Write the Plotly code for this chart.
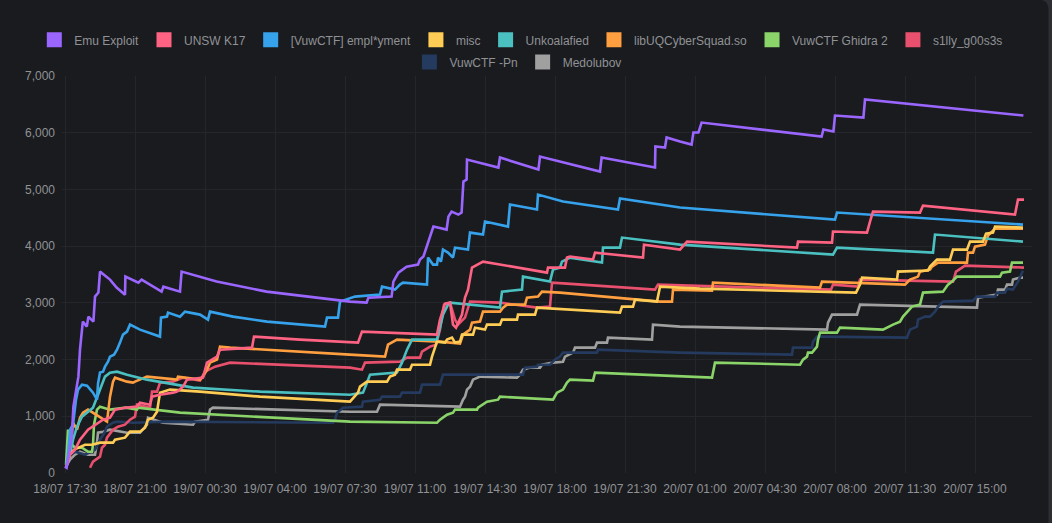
import pandas as pd
import plotly.graph_objects as go

# score history per team: hours since 18/07 17:30 and points at that time
START = pd.Timestamp("2024-07-18 17:30")

emu_hours = [0.0, 0.08, 0.34, 0.42, 0.67, 0.75, 0.89, 1.09, 1.17, 1.42, 1.5, 1.67, 1.75, 2.25, 2.58, 3.0,
             3.02, 3.67, 3.83, 4.83, 4.92, 5.75, 5.83, 7.58, 10.08, 13.4, 14.25, 15.08, 15.17, 16.33,
             16.42, 16.67, 17.08, 17.65, 17.75, 17.92, 18.08, 18.25, 18.42, 19.08, 19.17, 19.33, 19.67,
             19.83, 19.92, 20.08, 20.1, 21.67, 21.75, 23.67, 23.75, 26.75, 26.83, 29.5, 29.52, 30.0,
             30.08, 30.75, 31.33, 31.42, 31.67, 31.83, 37.83, 37.92, 38.42, 38.5, 39.92, 40.0, 47.92]
emu_scores = [111, 93, 640, 1170, 1699, 2175, 2669, 2581, 2757, 2669, 3110, 3181, 3551, 3410, 3269, 3145,
              3463, 3357, 3410, 3198, 3286, 3198, 3551, 3375, 3198, 3057, 3022, 3004, 3092, 3110,
              3375, 3533, 3639, 3675, 3763, 3816, 3992, 4168, 4345, 4292, 4521, 4609, 4556,
              4592, 5139, 5174, 5527, 5386, 5562, 5350, 5580, 5315, 5562, 5386, 5756, 5738,
              5915, 5844, 5791, 6003, 6003, 6179, 5932, 6056, 6021, 6303, 6267, 6585, 6303]

unsw_hours = [0.05, 0.25, 0.5, 0.75, 1.15, 1.5, 1.9, 2.25, 2.5, 3.0, 3.6, 3.75, 4.25, 4.35, 4.75, 5.4,
              5.6, 5.9, 6.1, 6.9, 7.1, 7.6, 7.75, 9.35, 9.45, 11.75, 14.65, 14.85, 18.6, 18.75, 19.0,
              19.25, 19.4, 19.55, 19.85, 20.0, 20.15, 20.35, 20.9, 24.1, 24.15, 25.0, 25.1, 25.25,
              26.4, 26.5, 28.9, 28.95, 30.75, 31.1, 36.6, 36.65, 38.35, 38.4, 40.1, 40.25, 40.4,
              42.75, 42.9, 47.5, 47.65, 47.95]
unsw_scores = [93, 323, 411, 587, 764, 852, 940, 975, 1117, 1152, 1170, 1240, 1205, 1346, 1381, 1417,
               1434, 1522, 1646, 1681, 1946, 2052, 2175, 2210, 2405, 2352, 2299, 2493, 2440, 2704, 2986,
               3004, 2616, 2563, 2793, 3092, 3233, 3622, 3727, 3533, 3622, 3622, 3798, 3816,
               3763, 3886, 3798, 4027, 3939, 4080, 3974, 4080, 4062, 4257, 4239, 4433, 4609,
               4592, 4715, 4556, 4821, 4821]

empl_hours = [0.05, 0.15, 0.25, 0.4, 0.55, 0.65, 0.85, 1.1, 1.4, 1.6, 1.65, 1.75, 1.9, 2.0, 2.15, 2.25,
              2.45, 2.6, 2.75, 2.9, 3.1, 3.25, 3.75, 4.75, 4.8, 5.1, 5.15, 5.75, 6.0, 6.75, 7.15, 7.25,
              8.4, 10.1, 13.0, 13.1, 13.65, 13.75, 14.5, 15.75, 15.85, 16.5, 16.75, 16.9, 18.1, 18.15,
              18.4, 18.6, 18.65, 18.8, 18.9, 19.15, 19.4, 19.5, 20.15, 20.25, 20.9, 21.0, 22.15, 22.25,
              23.6, 23.65, 24.9, 27.65, 27.75, 30.75, 38.5, 38.6, 47.9]
empl_scores = [93, 323, 764, 852, 1293, 1470, 1558, 1540, 1417, 1293, 1575, 1770, 1787, 1875, 1963, 2052,
               2087, 2175, 2299, 2440, 2493, 2616, 2528, 2405, 2740, 2757, 2828, 2757, 2845, 2793, 2704, 2845,
               2757, 2669, 2581, 2740, 2740, 3022, 3110, 3145, 3286, 3233, 3322, 3357, 3322, 3798,
               3675, 3675, 3798, 3727, 3939, 3886, 3798, 3974, 3939, 4239, 4204, 4433, 4345, 4733,
               4645, 4909, 4786, 4645, 4839, 4680, 4468, 4592, 4380]

misc_hours = [0.05, 0.25, 0.45, 0.65, 1.0, 1.35, 1.75, 2.4, 2.5, 3.0, 3.25, 3.75, 4.0, 4.15, 4.4, 4.6,
              4.75, 5.25, 6.75, 9.75, 14.25, 14.65, 14.75, 15.1, 16.1, 16.25, 16.5, 16.6, 17.25, 17.35,
              18.25, 18.35, 18.5, 18.6, 19.0, 19.1, 19.35, 19.5, 19.75, 19.85, 20.4, 20.5, 21.0, 21.1,
              21.75, 21.85, 22.6, 22.65, 23.5, 23.6, 27.75, 27.85, 28.4, 28.5, 29.6, 29.75, 31.75,
              39.55, 39.75, 39.85, 41.6, 41.65, 43.15, 43.25, 43.6, 44.25, 44.4, 45.1, 45.25, 45.9,
              46.05, 46.4, 46.5, 47.9]
misc_scores = [93, 323, 411, 446, 499, 499, 535, 535, 587, 623, 729, 729, 799, 940, 975, 1081,
               1417, 1470, 1434, 1346, 1258, 1417, 1522, 1611, 1611, 1699, 1734, 1822, 1822, 1910,
               1910, 2052, 2228, 2316, 2299, 2352, 2387, 2299, 2316, 2440, 2440, 2563, 2528, 2616,
               2616, 2704, 2704, 2793, 2793, 2916, 2828, 2934, 2934, 3057, 3022, 3286, 3251,
               3181, 3322, 3445, 3410, 3551, 3569, 3639, 3763, 3763, 3939, 3939, 4080, 4080,
               4221, 4239, 4345, 4327]

koala_hours = [0.05, 0.25, 0.4, 0.6, 0.85, 1.25, 1.4, 1.65, 1.75, 2.0, 2.25, 2.6, 3.1, 4.1, 6.4, 9.75,
               14.25, 14.9, 15.1, 15.25, 16.6, 16.85, 17.1, 17.35, 18.6, 18.75, 18.9, 19.15, 19.25,
               21.75, 21.85, 22.85, 22.9, 24.25, 24.4, 24.75, 24.85, 25.25, 26.85, 26.9, 27.75, 27.85,
               30.75, 38.4, 38.6, 43.4, 43.5, 47.9]
koala_scores = [93, 323, 587, 817, 993, 1117, 1152, 1381, 1470, 1699, 1770, 1787, 1734, 1646, 1505, 1434,
                1381, 1417, 1593, 1734, 1770, 1946, 2175, 2352, 2352, 2581, 2793, 2969, 3004,
                2916, 3198, 3233, 3463, 3375, 3586, 3622, 3727, 3798, 3710, 3974, 3974, 4151,
                4027, 3851, 3974, 3886, 4204, 4080]

libuq_hours = [0.05, 0.25, 0.4, 0.6, 0.75, 0.9, 1.15, 1.9, 2.1, 2.25, 2.4, 2.5, 3.1, 3.4, 3.5, 4.1,
               5.6, 5.65, 6.75, 6.9, 7.1, 7.25, 7.6, 7.75, 8.25, 14.25, 16.0, 16.15, 16.35, 16.6,
               18.75, 19.75, 19.9, 20.25, 20.35, 20.75, 20.9, 21.75, 21.9, 22.1, 23.0, 23.1, 23.65,
               23.85, 24.75, 29.75, 30.35, 30.4, 32.35, 32.4, 37.75, 37.85, 42.0, 42.25, 42.65, 42.75,
               43.25, 43.35, 43.65, 45.1, 45.15, 45.4, 45.5, 46.0, 46.15, 46.5, 47.9]
libuq_scores = [93, 376, 887, 764, 975, 1064, 1117, 940, 905, 1346, 1611, 1681, 1611, 1593, 1611, 1699,
                1646, 1699, 1646, 1699, 1822, 1946, 1999, 2228, 2210, 2087, 2052, 2263, 2299, 2352,
                2316, 2281, 2440, 2528, 2651, 2669, 2845, 2845, 2916, 2969, 2969, 3092, 3110,
                3198, 3181, 3022, 3022, 3233, 3216, 3357, 3269, 3375, 3322, 3410, 3463, 3551,
                3586, 3639, 3710, 3710, 3886, 3886, 3992, 4027, 4186, 4309, 4309]

ghidra_hours = [0.05, 0.1, 0.15, 0.25, 0.35, 0.5, 0.85, 1.15, 1.35, 1.4, 1.45, 1.6, 1.75, 2.25, 3.05,
                3.6, 3.65, 5.75, 14.25, 18.6, 18.75, 19.1, 19.4, 19.5, 20.6, 20.65, 21.1, 21.65, 21.75,
                24.4, 24.6, 24.9, 25.1, 25.25, 26.4, 26.5, 30.75, 32.35, 32.5, 36.75, 36.9, 37.1, 37.15,
                37.35, 37.6, 37.65, 37.75, 38.6, 38.75, 40.9, 41.4, 41.75, 41.9, 42.25, 42.35, 42.75,
                42.9, 43.9, 44.1, 44.15, 44.35, 44.6, 46.75, 46.85, 47.25, 47.35, 47.9]
ghidra_scores = [146, 587, 764, 587, 499, 446, 446, 376, 376, 499, 852, 1117, 1170, 1117, 1152,
                 1117, 1152, 1064, 905, 887, 940, 1028, 1064, 1117, 1117, 1152, 1258, 1293, 1346,
                 1293, 1417, 1470, 1593, 1646, 1629, 1770, 1699, 1681, 1946, 1910, 1999, 2052, 2122,
                 2122, 2228, 2352, 2475, 2475, 2563, 2528, 2616, 2669, 2757, 2881, 2934, 2969,
                 3181, 3198, 3286, 3322, 3375, 3463, 3463, 3533, 3551, 3710, 3710]

silly_hours = [1.25, 1.4, 1.75, 1.85, 2.0, 2.1, 2.4, 2.65, 3.0, 3.25, 3.5, 3.6, 4.25, 4.35, 4.6, 4.75,
               5.4, 5.9, 6.75, 7.0, 7.5, 8.0, 8.25, 14.25, 14.85, 15.0, 16.75, 17.1, 17.75, 17.85,
               18.25, 18.55, 18.75, 18.95, 19.25, 19.5, 19.65, 20.0, 20.25, 21.75, 23.6, 24.25, 24.35,
               25.1, 29.5, 29.65, 38.3, 38.4, 39.65, 39.75, 44.4, 44.55, 45.0, 47.95]
silly_scores = [93, 199, 288, 446, 499, 623, 764, 817, 852, 940, 993, 1205, 1152, 1434, 1434, 1593,
                1611, 1681, 1629, 1787, 1875, 1928, 1946, 1858, 1822, 1946, 1963, 2034, 2034, 2140,
                2228, 2263, 2528, 2969, 3004, 2704, 2616, 2740, 3022, 3004, 2916, 2934, 3357,
                3339, 3233, 3322, 3233, 3322, 3286, 3410, 3375, 3551, 3657, 3622]

pn_hours = [0.05, 0.25, 0.5, 1.0, 1.5, 1.75, 2.0, 2.1, 2.4, 2.6, 3.4, 5.1, 13.4, 13.5, 13.6, 13.9,
            14.85, 14.9, 15.75, 15.85, 16.75, 16.85, 17.75, 17.85, 18.75, 18.9, 22.9, 23.0, 23.6,
            23.65, 24.25, 24.5, 24.75, 24.9, 26.6, 26.65, 30.75, 36.35, 36.4, 37.35, 37.4, 37.6,
            37.75, 42.1, 42.25, 42.6, 42.65, 43.0, 43.25, 43.5, 43.65, 43.9, 45.4, 45.6, 46.5, 46.6,
            47.0, 47.1, 47.4, 47.65, 47.9]
pn_scores = [111, 323, 376, 323, 411, 587, 729, 817, 887, 905, 887, 905, 887, 940, 1064, 1152,
             1170, 1258, 1293, 1346, 1346, 1417, 1417, 1558, 1558, 1734, 1734, 1858, 1875,
             1910, 1910, 1999, 2052, 2122, 2122, 2175, 2122, 2087, 2210, 2210, 2316, 2405,
             2405, 2387, 2528, 2581, 2704, 2757, 2757, 2845, 2934, 3022, 3039, 3110, 3110, 3181,
             3181, 3251, 3233, 3375, 3569]

medo_hours = [0.05, 0.25, 0.5, 0.75, 1.15, 1.5, 1.6, 1.65, 1.9, 2.25, 3.1, 3.75, 4.1, 4.15, 4.9, 6.4,
              6.5, 7.15, 7.25, 7.4, 14.25, 15.6, 15.75, 19.75, 19.9, 20.0, 20.1, 20.25, 20.4, 20.6,
              20.75, 22.6, 22.75, 22.9, 23.25, 23.75, 23.85, 24.4, 24.9, 25.0, 25.4, 25.5, 26.5, 26.6,
              27.1, 27.15, 29.35, 29.4, 30.75, 38.1, 38.15, 38.35, 39.6, 39.75, 45.6, 45.65, 46.6,
              46.65, 47.0, 47.1, 47.35, 47.4, 47.75, 47.9]
medo_scores = [111, 235, 323, 376, 323, 323, 535, 711, 729, 764, 711, 711, 852, 975, 887, 852,
               905, 940, 1117, 1152, 1081, 1081, 1205, 1170, 1293, 1346, 1470, 1522, 1646, 1681,
               1699, 1681, 1734, 1822, 1858, 1858, 1910, 1946, 1963, 2052, 2122, 2210, 2210, 2299,
               2299, 2387, 2352, 2616, 2581, 2528, 2651, 2793, 2793, 2969, 2916, 3092, 3145,
               3233, 3233, 3322, 3322, 3410, 3445, 3445]

teams = [
    ("Emu Exploit", "#9b66ff", emu_hours, emu_scores),
    ("UNSW K17", "#ff6384", unsw_hours, unsw_scores),
    ("[VuwCTF] empl*yment", "#36a2eb", empl_hours, empl_scores),
    ("misc", "#ffcd56", misc_hours, misc_scores),
    ("Unkoalafied", "#4bc0c0", koala_hours, koala_scores),
    ("libUQCyberSquad.so", "#ff9f40", libuq_hours, libuq_scores),
    ("VuwCTF Ghidra 2", "#8ad46a", ghidra_hours, ghidra_scores),
    ("s1lly_g00s3s", "#e8506e", silly_hours, silly_scores),
    ("VuwCTF -Pn", "#243a5e", pn_hours, pn_scores),
    ("Medolubov", "#a0a0a0", medo_hours, medo_scores),
]

BG = "#1a1b1e"
OUTSIDE = "#2c2e33"
GRID = "#25262b"
TEXT = "#909296"

fig = go.Figure()

# lines: first team drawn last so it sits on top
for name, color, hours, scores in reversed(teams):
    times = START + pd.to_timedelta(hours, unit="h")
    fig.add_scatter(x=times, y=scores, mode="lines", name=name, showlegend=False,
                    line=dict(color=color, width=2.6), hoverinfo="skip")

# legend entries as coloured boxes, split over two centred rows
for i, (name, color, _, _) in enumerate(teams):
    fig.add_scatter(x=[None], y=[None], mode="markers", name=name,
                    legend="legend" if i < 8 else "legend2",
                    marker=dict(symbol="square", size=15, color=color))

legend_style = dict(orientation="h", xanchor="center", yanchor="middle", itemwidth=30,
                    font=dict(size=12, color=TEXT), bgcolor="rgba(0,0,0,0)", itemclick=False)

# dark card behind the chart, its right edge showing a thin strip of the page
card = "M -0.07,-0.13 L -0.07,1.192 L 1.007,1.192 Q 1.017,1.192 1.017,1.167 L 1.017,-0.13 Z"

fig.update_layout(
    width=1052, height=523,
    margin=dict(l=62, r=20, t=76, b=50),
    paper_bgcolor=OUTSIDE, plot_bgcolor=BG,
    font=dict(family="Arial, Liberation Sans, sans-serif", size=12, color=TEXT),
    legend=dict(x=0.473, y=1.091, **legend_style),
    legend2=dict(x=0.470, y=1.035, **legend_style),
    shapes=[dict(type="path", path=card, xref="paper", yref="paper",
                 fillcolor=BG, line=dict(width=0), layer="below")],
    xaxis=dict(
        type="date",
        range=[START - pd.Timedelta(hours=0.15), START + pd.Timedelta(hours=48.35)],
        tick0=START, dtick=3.5 * 3600 * 1000, tickformat="%d/%m %H:%M",
        showgrid=True, gridcolor=GRID, zeroline=False, showline=False,
        ticks="", ticklabelstandoff=7, tickfont=dict(size=12, color=TEXT),
    ),
    yaxis=dict(
        range=[0, 7000], dtick=1000, tickformat=",",
        showgrid=True, gridcolor=GRID, zeroline=False, showline=False,
        ticks="", ticklabelstandoff=6, tickfont=dict(size=12, color=TEXT),
    ),
)

fig.write_html("out.html", config={"displayModeBar": False},
               post_script="document.body.style.margin = '0';")
